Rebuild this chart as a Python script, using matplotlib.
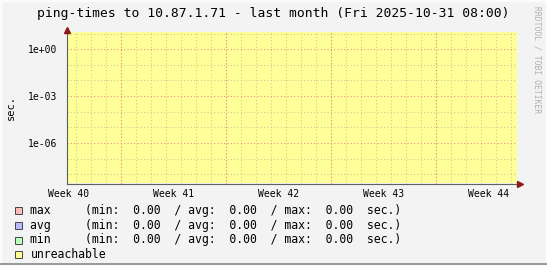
import numpy as np
import matplotlib.pyplot as plt
from matplotlib.patches import Rectangle

# time axis in days from graph start (last month, 30 days)
days = [0, 5, 10, 15, 20, 25, 30]
unreachable = [1, 1, 1, 1, 1, 1, 1]   # host unreachable the whole period

week_labels = ['Week 40', 'Week 41', 'Week 42', 'Week 43', 'Week 44']
week_label_pos = [0.1, 7.1, 14.1, 21.1, 28.1]
week_starts = [3.6, 10.6, 17.6, 24.6]
day_lines = [0.6 + k for k in range(30)]

y_major = [1e0, 1e-3, 1e-6]
y_major_labels = ['1e+00', '1e-03', '1e-06']
y_minor = [1e1, 1e-1, 1e-2, 1e-4, 1e-5, 1e-7, 1e-8]

series = ['max', 'avg', 'min']
series_colors = ['#ffbbbb', '#bbbbff', '#bbffbb']
stat_min = [0.00, 0.00, 0.00]
stat_avg = [0.00, 0.00, 0.00]
stat_max = [0.00, 0.00, 0.00]

W, H = 547, 265
bg = '#f3f3f3'
mono = 'DejaVu Sans Mono'


def px(x, y):
    return x / W, 1 - y / H


fig = plt.figure(figsize=(W / 100, H / 100), dpi=100, facecolor=bg)

# 3d-ish frame around the image
fig.patches.append(Rectangle((0, 0), 1, 1, transform=fig.transFigure,
                             facecolor='none', edgecolor='#fcfcfc', lw=2.5))
fig.patches.append(Rectangle(px(W - 2.5, 0), 2.5 / W, 1, transform=fig.transFigure,
                             facecolor='#9a9a9a', edgecolor='none'))
fig.patches.append(Rectangle(px(0, H), 1, 2.5 / H, transform=fig.transFigure,
                             facecolor='#9a9a9a', edgecolor='none'))

left, top, right, bottom = 66.7, 32.0, 516.7, 183.5
ax = fig.add_axes([left / W, 1 - bottom / H, (right - left) / W, (bottom - top) / H])
ax.set_facecolor(bg)
ax.set_yscale('log')
ax.set_xlim(0, 30)
ax.set_ylim(10 ** -8.59, 10 ** 1.1)

# unreachable area fills the full height
ax.fill_between(days, 0, 1, where=[u == 1 for u in unreachable],
                transform=ax.get_xaxis_transform(), color='#ffff99', lw=0, zorder=0)

# grid
for d in day_lines:
    ax.axvline(d, color='#d2c98c', lw=0.8, ls=(0, (1, 2)), zorder=1)
for d in week_starts:
    ax.axvline(d, color='#f09080', lw=0.8, ls=(0, (1, 2)), zorder=2)
for v in y_minor:
    ax.axhline(v, color='#d2c98c', lw=0.8, ls=(0, (1, 2)), zorder=1)
for v in y_major:
    ax.axhline(v, color='#f09080', lw=0.8, ls=(0, (1, 2)), zorder=2)

ax.set_yticks(y_major)
ax.set_yticklabels(y_major_labels, fontfamily=mono, fontsize=7)
ax.set_yticks([], minor=True)
ax.set_xticks([])
ax.tick_params(axis='y', length=0, pad=6.5)

for lbl, pos in zip(week_labels, week_label_pos):
    ax.text(pos, -0.035, lbl, transform=ax.get_xaxis_transform(), ha='center', va='top',
            fontfamily=mono, fontsize=7)

for s in ['top', 'right']:
    ax.spines[s].set_visible(False)
ax.spines['left'].set_color('#606060')
ax.spines['bottom'].set_color('#606060')
ax.spines['bottom'].set_bounds(0, 30.2)
ax.plot([0], [1.015], marker='^', color='#8b1a1a', ms=4, transform=ax.transAxes,
        clip_on=False, zorder=5)
ax.plot([30.2], [0], marker='>', color='#8b1a1a', ms=4,
        transform=ax.get_xaxis_transform(), clip_on=False, zorder=5)

# title and labels
fig.text(*px(273, 14), 'ping-times to 10.87.1.71 - last month (Fri 2025-10-31 08:00)',
         ha='center', va='center', fontfamily=mono, fontsize=9.4)
fig.text(*px(11, 108), 'sec.', rotation=90, ha='center', va='center',
         fontfamily=mono, fontsize=7.5)
fig.text(*px(537.5, 60), 'RRDTOOL / TOBI OETIKER', rotation=270, ha='center', va='center',
         fontfamily=mono, fontsize=5.8, color='#b0b0b0')

# legend
rows_y = [210.6, 225.3, 240.0, 254.7]
names = series + ['unreachable']
colors = series_colors + ['#ffff99']
for i, (name, c) in enumerate(zip(names, colors)):
    y = rows_y[i]
    fig.patches.append(Rectangle(px(15, y + 3.5), 7 / W, 7 / H, transform=fig.transFigure,
                                 facecolor=c, edgecolor='#444444', lw=0.7))
    if i < len(series):
        line = '%-7s (min: %5.2f  / avg: %5.2f  / max: %5.2f  sec.)' % (
            name, stat_min[i], stat_avg[i], stat_max[i])
    else:
        line = name
    fig.text(*px(30.4, y), line, ha='left', va='center', fontfamily=mono, fontsize=8.3)

fig.savefig('out.png', dpi=100, facecolor=bg)
